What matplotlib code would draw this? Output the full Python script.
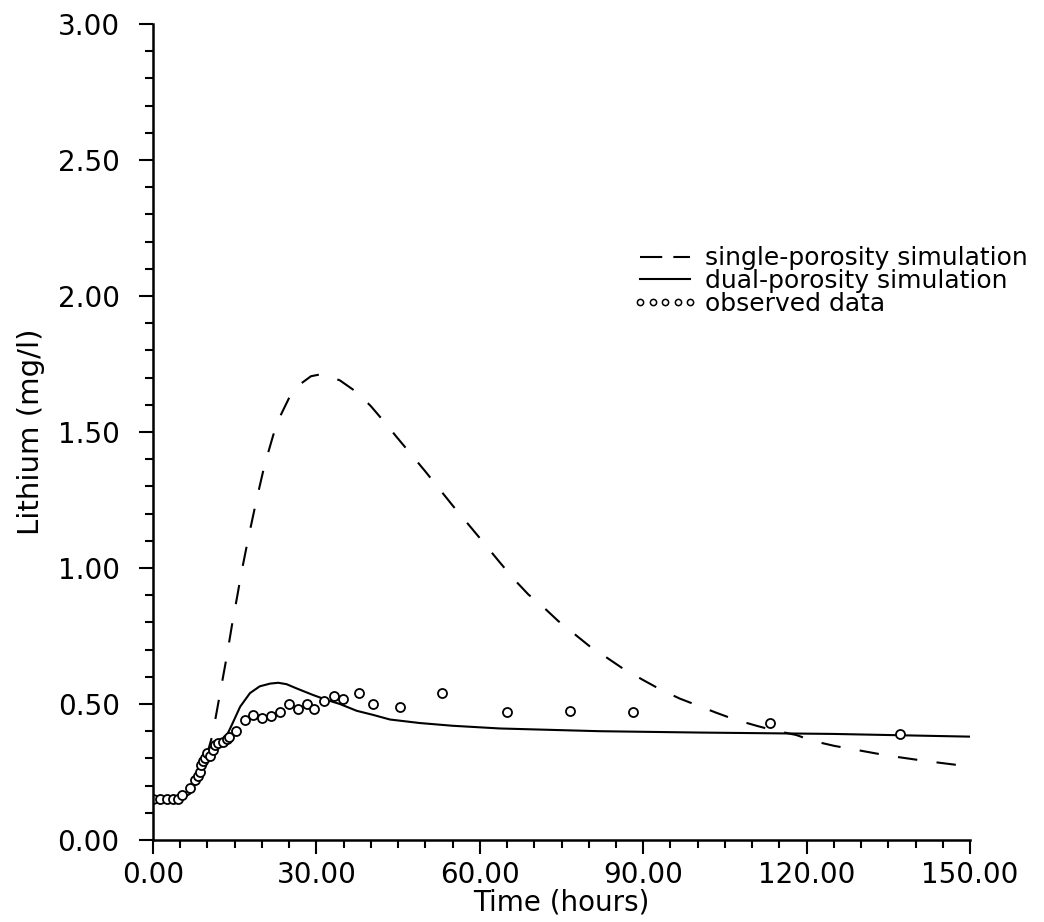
import matplotlib
matplotlib.use("Agg")
import matplotlib.pyplot as plt
from matplotlib.lines import Line2D
from matplotlib.ticker import MultipleLocator, FormatStrFormatter

# observed lithium concentrations
obs_t = [0.0, 1.3, 2.5, 3.7, 4.6, 5.3, 6.8, 7.7, 8.2, 8.6, 8.9, 9.2, 9.5, 10.0,
         10.5, 11.0, 11.4, 12.0, 12.9, 13.5, 14.0, 15.2, 16.8, 18.4, 20.1, 21.7,
         23.3, 24.9, 26.7, 28.2, 29.6, 31.4, 33.3, 34.9, 37.9, 40.3, 45.4, 53.1,
         65.0, 76.6, 88.1, 113.2, 137.2]
obs_v = [0.15, 0.15, 0.15, 0.15, 0.15, 0.165, 0.19, 0.22, 0.235, 0.25, 0.275,
         0.29, 0.30, 0.32, 0.31, 0.33, 0.35, 0.355, 0.36, 0.37, 0.38, 0.40, 0.44,
         0.46, 0.45, 0.455, 0.47, 0.50, 0.48, 0.50, 0.48, 0.51, 0.53, 0.52, 0.54,
         0.50, 0.49, 0.54, 0.47, 0.475, 0.47, 0.43, 0.39]

# dual-porosity simulation
dual_t = [0, 4.5, 5.5, 6.8, 8.0, 9.8, 11.0, 11.7, 13.2, 14.4, 16.0, 17.8, 19.6,
          21.5, 23.0, 24.5, 26.4, 29.4, 31.9, 34.3, 37.4, 40.4, 43.5, 49, 55,
          63.7, 82, 100.4, 124.8, 150]
dual_v = [0.15, 0.15, 0.155, 0.17, 0.215, 0.28, 0.32, 0.34, 0.37, 0.42, 0.49,
          0.54, 0.565, 0.575, 0.578, 0.573, 0.557, 0.533, 0.515, 0.50, 0.475,
          0.46, 0.443, 0.43, 0.42, 0.41, 0.40, 0.395, 0.39, 0.38]

# single-porosity simulation
single_t = [0, 4.5, 6.8, 9.0, 10.7, 11.5, 12.5, 13.5, 14.5, 15.5, 16.2, 17.5,
            19.0, 20.5, 22.1, 23.4, 25.1, 27.3, 29.0, 31.0, 34.3, 37.5, 40.0,
            42.6, 44.8, 50, 55, 60, 63.7, 66.4, 68.9, 71.9, 74.4, 77.4, 80.3,
            83.5, 86.3, 90, 93, 96.7, 99.8, 103.4, 106.8, 110.8, 113.8, 118.1,
            121.2, 125.1, 128.4, 135, 142, 150]
single_v = [0.15, 0.15, 0.18, 0.25, 0.37, 0.45, 0.56, 0.67, 0.79, 0.90, 0.98,
            1.11, 1.25, 1.38, 1.49, 1.56, 1.63, 1.68, 1.705, 1.713, 1.69, 1.645,
            1.595, 1.534, 1.48, 1.355, 1.23, 1.11, 1.02, 0.956, 0.903, 0.852,
            0.805, 0.757, 0.71, 0.668, 0.63, 0.588, 0.555, 0.52, 0.496, 0.468,
            0.443, 0.42, 0.404, 0.386, 0.364, 0.346, 0.334, 0.31, 0.29, 0.27]

legend_names = ['single-porosity simulation',
                'dual-porosity simulation',
                'observed data']

plt.rcParams['lines.scale_dashes'] = False
plt.rcParams['font.family'] = 'DejaVu Sans'

fig = plt.figure(figsize=(10.44, 9.22), dpi=100)
ax = fig.add_axes([153 / 1044, 82 / 922, 817 / 1044, 816 / 922])

ax.plot(single_t, single_v, color='black', linewidth=1.5,
        linestyle=(0, (14, 14)))
ax.plot(dual_t, dual_v, color='black', linewidth=1.5)
ax.plot(obs_t, obs_v, linestyle='none', marker='o', markersize=6.5,
        markerfacecolor='white', markeredgecolor='black', markeredgewidth=1.3)

ax.set_xlim(0, 150)
ax.set_ylim(0, 3.0)
for side in ['top', 'right']:
    ax.spines[side].set_visible(False)
for side in ['left', 'bottom']:
    ax.spines[side].set_linewidth(1.8)

ax.xaxis.set_major_locator(MultipleLocator(30))
ax.xaxis.set_minor_locator(MultipleLocator(5))
ax.yaxis.set_major_locator(MultipleLocator(0.5))
ax.yaxis.set_minor_locator(MultipleLocator(0.1))
ax.xaxis.set_major_formatter(FormatStrFormatter('%.2f'))
ax.yaxis.set_major_formatter(FormatStrFormatter('%.2f'))
ax.tick_params(which='major', length=10, width=1.5, labelsize=20,
               direction='out', pad=5)
ax.tick_params(axis='y', which='major', pad=14)
ax.tick_params(which='minor', length=6, width=1.5, direction='out')

ax.set_xlabel('Time (hours)', fontsize=20, labelpad=0)
ax.set_ylabel('Lithium (mg/l)', fontsize=21, labelpad=9)

handles = [
    Line2D([], [], color='black', linewidth=1.5, linestyle=(0, (16, 8))),
    Line2D([], [], color='black', linewidth=1.5),
    Line2D([], [], linestyle='none', marker='o', markersize=4.5,
           markerfacecolor='white', markeredgecolor='black',
           markeredgewidth=1.1),
]
ax.legend(handles, legend_names, loc='upper left',
          bbox_to_anchor=(620 / 1044, 1 - 234 / 922),
          bbox_transform=fig.transFigure, frameon=False, fontsize=18,
          handlelength=2.6, handletextpad=0.3, labelspacing=-0.05,
          numpoints=5, borderpad=0)

fig.savefig('out.png', dpi=100)
